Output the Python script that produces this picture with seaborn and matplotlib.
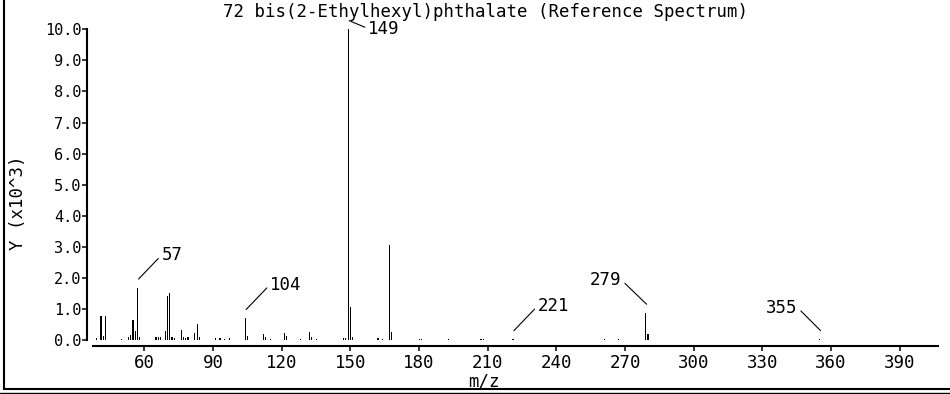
import matplotlib
matplotlib.use("Agg")
import matplotlib.pyplot as plt
from matplotlib.lines import Line2D
import numpy as np
import pandas as pd
import seaborn as sns

# ---- data (intensity in units of 10^3) ----
mz = [39, 41, 42, 43, 50, 53, 54, 55, 56, 57, 58, 65, 66, 67, 69, 70, 71, 72, 73,
      76, 77, 78, 79, 82, 83, 84, 91, 93, 95, 97, 104, 105, 112, 113, 115, 121, 122,
      128, 132, 133, 135, 147, 148, 149, 150, 151, 162, 164, 167, 168, 180, 181, 193,
      207, 208, 221, 261, 267, 279, 280, 355]
intensity = [0.06, 0.78, 0.12, 0.78, 0.03, 0.10, 0.15, 0.65, 0.30, 1.68, 0.10, 0.10, 0.08, 0.10, 0.30, 1.42, 1.50, 0.10, 0.05,
             0.32, 0.08, 0.05, 0.10, 0.22, 0.50, 0.10, 0.06, 0.06, 0.03, 0.06, 0.70, 0.12, 0.20, 0.10, 0.03, 0.22, 0.12,
             0.03, 0.25, 0.08, 0.03, 0.05, 0.05, 10.0, 1.07, 0.10, 0.06, 0.03, 3.05, 0.27, 0.02, 0.02, 0.02,
             0.03, 0.03, 0.02, 0.02, 0.02, 0.87, 0.20, 0.02]
peak_labels = [57, 104, 149, 221, 279, 355]
x_ticks = [60, 90, 120, 150, 180, 210, 240, 270, 300, 330, 360, 390]
y_ticks = [0, 1, 2, 3, 4, 5, 6, 7, 8, 9, 10]
title = "72 bis(2-Ethylhexyl)phthalate (Reference Spectrum)"
x_label = "m/z"
y_label = "Y (x10^3)"

# ---- style ----
sns.set_theme(style="white")
plt.rcParams["font.family"] = ["DejaVu Sans Mono", "DejaVu Sans"]
plt.rcParams["text.color"] = "black"
plt.rcParams["xtick.color"] = "black"
plt.rcParams["ytick.color"] = "black"
FS = 12.5

W, H = 950, 394
fig = plt.figure(figsize=(W / 100, H / 100), dpi=100)
ax = fig.add_axes([93 / W, 48 / H, 845 / W, (364.7 - 48) / H])

df = pd.DataFrame({"mz": mz, "intensity": intensity})
sns.histplot(data=df, x="mz", weights="intensity", discrete=True, shrink=0.5,
             color="black", alpha=1, linewidth=0, ax=ax, legend=False)
for p in ax.patches:
    p.set_antialiased(False)

ax.set_xlim(37.5, 406.7)
ax.set_ylim(-0.194, 10.0)
ax.set_xticks(x_ticks)
ax.set_xticklabels([str(t) for t in x_ticks], fontsize=FS, color="black")
ax.set_yticks(y_ticks)
ax.set_yticklabels([f"{t:.1f}" for t in y_ticks], fontsize=FS, color="black")
ax.set_xlabel("")
ax.set_ylabel("")

for s in ["top", "right"]:
    ax.spines[s].set_visible(False)
for s in ["left", "bottom"]:
    ax.spines[s].set_color("black")
    ax.spines[s].set_linewidth(1.5)
ax.spines["left"].set_bounds(0, 10)
ax.spines["left"].set_position(("outward", 4.3))
ax.tick_params(axis="x", direction="out", length=3.5, width=1.1, pad=2.5, colors="black", bottom=True)
ax.tick_params(axis="y", direction="out", length=3.6, width=1.1, pad=0.5, colors="black", left=True)
ax.grid(False)

# ---- peak annotations ----
offsets = {57: (23, 24, "left"), 104: (24, 25, "left"), 149: (19, -8, "left"),
           221: (24, 25, "left"), 279: (-25, 24, "right"), 355: (-23, 23, "right")}
for lab in peak_labels:
    i = mz.index(lab)
    dx, dy, ha = offsets[lab]
    ax.annotate(str(lab), xy=(mz[i] + 0.4, intensity[i] + 0.28), xytext=(dx, dy),
                textcoords="offset pixels", ha=ha, va="center", fontsize=FS,
                color="black", annotation_clip=False,
                arrowprops=dict(arrowstyle="-", lw=0.8, color="black",
                                shrinkA=0, shrinkB=0,
                                relpos=(0, 0.5) if ha == "left" else (1, 0.5)))

# ---- titles / labels ----
fig.text(485 / W, 1 - 12 / H, title, ha="center", va="center", fontsize=FS, color="black")
fig.text(484 / W, 1 - 381 / H, x_label, ha="center", va="center", fontsize=FS, color="black")
fig.text(18 / W, 1 - 203 / H, y_label, ha="center", va="center", rotation=90, fontsize=FS, color="black")

# ---- frame lines ----
fig.add_artist(Line2D([4 / W, 4 / W], [1 - 389 / H, 1], transform=fig.transFigure, lw=1.5, color="black"))
fig.add_artist(Line2D([4 / W, 1], [1 - 389 / H, 1 - 389 / H], transform=fig.transFigure, lw=1.5, color="black"))
fig.add_artist(Line2D([0, 1], [1 - 393 / H, 1 - 393 / H], transform=fig.transFigure, lw=1.0, color="black"))

fig.savefig("out.png", dpi=100)
